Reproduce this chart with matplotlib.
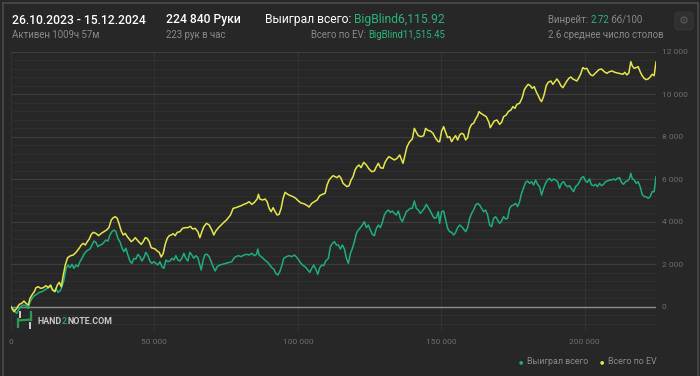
import numpy as np
import matplotlib
matplotlib.use("Agg")
from matplotlib import pyplot as plt
from matplotlib.patches import FancyBboxPatch
from matplotlib.lines import Line2D
from matplotlib.ticker import MultipleLocator, FuncFormatter

plt.rcParams['font.family'] = ['Roboto', 'DejaVu Sans']

# EV winnings (big blinds) vs hands played, in thousands of hands
ev_hands_k = [0, 1.04, 1.97, 2.90, 3.72, 4.53, 5.22, 6.04, 6.62, 7.43, 8.13, 8.71, 9.52, 10.33, 11.26, 12.19,
              13.00, 13.82, 14.51, 15.33, 16.14, 16.83, 17.53, 18.23, 18.92, 19.74, 20.78, 21.71, 22.64, 23.57,
              24.50, 25.19, 25.89, 26.59, 27.28, 27.98, 28.68, 29.61, 30.53, 31.46, 32.39, 33.32, 34.13, 34.95,
              35.64, 36.34, 37.04, 37.73, 38.43, 39.13, 39.82, 40.52, 41.22, 41.91, 42.61, 43.31, 44.00, 44.70,
              45.40, 46.09, 46.79, 47.48, 48.18, 48.88, 49.57, 50.27, 50.97, 51.66, 52.36, 53.06, 53.75, 54.45,
              55.15, 55.84, 56.54, 57.24, 57.93, 58.86, 59.79, 60.72, 61.65, 62.58, 63.27, 64.20, 65.13, 65.83,
              66.53, 67.22, 68.15, 69.08, 70.01, 70.70, 71.40, 72.33, 73.26, 74.19, 75.12, 76.05,
              76.51, 77.44, 78.37, 79.30, 80.23, 81.15, 82.08, 83.01, 83.94, 84.87, 85.80, 86.26, 86.73, 87.66,
              88.58, 89.28, 89.98, 90.67, 91.37, 92.07, 92.76, 93.46, 94.16, 94.85, 95.55, 96.48, 97.41, 98.34,
              99.27, 100.19, 101.12, 102.05, 102.98, 103.91, 104.84, 105.77, 106.70, 107.62, 108.55, 109.48,
              110.18, 110.88, 111.57, 112.27, 112.97, 113.66, 114.36, 115.06, 115.75, 116.45, 117.14, 117.84,
              118.54, 119.23, 119.93, 120.63, 121.32, 122.02, 122.95, 123.88, 124.81, 125.74, 126.67, 127.36,
              128.06, 128.75, 129.68, 130.38, 131.08, 131.77, 132.70, 133.63, 134.56, 135.49, 136.19, 136.65,
              137.35, 138.04, 138.97, 139.90, 140.60, 141.29, 141.99, 142.92, 143.85, 144.54, 145.24, 146.17,
              147.10, 148.03, 148.96,
              149.42, 150.12, 150.81, 151.51, 152.21, 152.90, 153.60, 154.30, 154.99, 155.69, 156.39, 157.08,
              157.78, 158.48, 159.17, 159.87, 160.57, 161.26, 161.96, 162.66, 163.12, 163.82, 164.75, 165.67,
              166.60, 167.07, 167.76, 168.46, 169.39, 170.32, 171.02, 171.71, 172.64, 173.34, 174.27, 174.96,
              175.66, 176.36, 177.28, 178.21, 178.91, 179.61, 180.30, 181.00, 181.70, 182.39, 183.09, 183.79,
              184.48, 184.95, 185.64, 186.11, 186.57, 187.27, 188.20, 188.89, 189.59, 190.29, 190.98, 191.68,
              192.38, 193.07, 193.77, 194.47, 195.16, 195.86, 196.56, 197.25, 197.95, 198.65, 199.34, 200.04,
              200.74, 201.43, 202.13, 202.83, 203.52, 204.22, 204.92, 205.85, 206.77, 207.70, 208.63, 209.56,
              210.49, 211.42, 212.35, 213.28, 213.97, 214.67, 215.37, 216.06, 216.53, 217.22, 217.92, 218.62,
              219.31, 220.01, 220.71, 221.40, 222.10, 222.80, 223.49, 224.19, 224.84]
ev_bb = [0, -235, -78, 110, 157, 267, 157, 78, 392, 581, 706, 894, 941, 863, 894, 988,
         894, 1020, 784, 706, 1020, 1145, 941, 1491, 1961, 2306, 2401, 2432, 2557, 2714,
         2903, 2981, 2903, 3060, 3185, 3405, 3499, 3452, 3342, 3452, 3530, 3609, 3719, 4079,
         4189, 4236, 4158, 3875, 3562, 3373, 3452, 3295, 3185, 3060, 3138, 3248, 3138, 3028,
         2934, 3060, 3248, 3216, 3060, 2777, 2746, 2714, 2620, 2557, 2338, 2510, 2934, 3216,
         3342, 3373, 3436, 3342, 3499, 3530, 3687, 3719, 3719, 3781, 3656, 3687, 3530, 3248,
         3530, 3766, 3923, 3844, 3609, 3373, 3562, 3719, 3844, 3970, 4079, 4236,
         4315, 4629, 4660, 4707, 4754, 4817, 4864, 4942, 4817, 4911, 5068, 5288, 5068, 5021,
         5068, 4942, 4629, 4472, 4660, 4472, 4315, 4346, 4629, 5099, 5382, 5288, 5225, 5178,
         5099, 4974, 4880, 4848, 4785, 4691, 4864, 4942, 5021, 5225, 5288, 5335,
         5727, 5962, 6072, 6166, 6119, 6072, 6166, 6041, 5805, 5727, 5648, 5695,
         5962, 6119, 6433, 6590, 6668, 6543, 6794, 6668, 6480, 6354, 6386, 6590,
         6747, 6543, 6511, 6794, 6951, 7061, 6982, 6904, 6982, 7139, 6904, 6747,
         7139, 7531, 7767, 7892, 8394, 8206, 8049, 8002, 8049, 8394, 8300, 8269,
         8159, 7923, 7767,
         7767, 8269, 8473, 8206, 7955, 8002, 7767, 7923, 8049, 7845, 8080, 8159,
         8112, 7845, 7955, 8394, 8582, 8630, 8833, 8990, 9179, 9100, 9022, 8943,
         8676, 8425, 8582, 8739, 8786, 8582, 8676, 8943, 9022, 9179, 9257, 9414,
         9335, 9524, 9571, 9837, 10199, 10355, 10465, 10402, 10277, 10355, 10120, 9932,
         9728, 9649, 9885, 10120, 10402, 10559, 10622, 10465, 10591, 10716, 10591, 10402,
         10308, 10465, 10622, 10748, 10810, 10716, 10669, 10622, 10779, 10967, 11250, 11187,
         11218, 11030, 10905, 10873, 10967, 11061, 11155, 11187, 11061, 10983, 11061, 11092,
         11030, 10999, 10967, 10936, 11030, 10905, 10999, 11532, 11344, 11218, 11250, 11297,
         11061, 10873, 10748, 10685, 10716, 10810, 10936, 10873, 11515]

# actual winnings (big blinds)
won_hands_k = [0, 0.81, 1.39, 1.97, 2.55, 3.37, 4.30, 5.22, 5.92, 6.62, 7.31, 8.13, 8.94, 9.87, 10.80, 11.73,
               12.65, 13.58, 14.28, 14.98, 15.67, 16.37, 17.07, 17.76, 18.46, 19.16, 19.85, 20.55, 21.25, 21.94,
               22.64, 23.34, 24.03, 24.73, 25.43, 26.12, 26.82, 27.52, 28.21, 28.91, 29.61, 30.30, 31.00, 31.70,
               32.39, 33.09, 33.79, 34.48, 35.18, 35.87, 36.57, 37.27, 37.96, 38.66, 39.36, 40.05, 40.75, 41.45,
               42.14, 42.84, 43.54, 44.23, 44.93, 45.63, 46.32, 47.02, 47.72, 48.41, 49.11, 49.81, 50.50, 51.20,
               51.90, 52.59, 53.29, 53.99, 54.68, 55.38, 56.08, 56.77, 57.47, 58.17, 58.86, 59.56, 60.26, 60.95,
               61.65, 62.35, 63.04, 63.74, 64.44, 65.13, 65.83, 66.29, 66.99, 67.69, 68.38, 69.08, 69.78, 70.47,
               71.17, 71.87, 72.79,
               76.97, 77.67, 78.37, 79.30, 80.23, 81.15, 82.08, 83.01, 83.94, 84.87, 85.57, 86.03, 86.49, 87.19,
               87.89, 88.82, 89.51, 90.21, 90.91, 91.60, 92.30, 93.00, 93.69, 94.39, 95.09, 96.01, 96.94, 97.87,
               98.80, 99.73, 100.66, 101.59, 102.52, 103.45, 104.14, 104.84, 105.53, 106.23, 106.93, 107.62,
               108.32, 109.02, 109.71, 110.64, 111.34, 112.04, 112.73, 113.43, 114.13, 114.82, 115.52, 116.22,
               116.91, 117.61, 118.31, 119.00, 119.70, 120.40, 121.09, 121.79, 122.49, 123.18, 123.88, 124.58,
               125.27, 125.97, 126.67, 127.36, 128.06, 128.75, 129.45, 130.15, 130.84, 131.54, 132.24, 132.93,
               133.63, 134.33, 135.02, 135.72, 136.42, 137.11, 137.81, 138.51, 139.20, 139.90, 140.60, 141.29,
               141.99, 142.69, 143.38, 144.08, 144.78, 145.47, 146.17, 146.87, 147.56, 148.26, 148.96,
               149.42, 150.12, 150.81, 151.51, 152.21, 152.90, 153.60, 154.30, 154.99, 155.69, 156.39, 157.08,
               157.78, 158.48, 159.17, 159.87, 160.57, 161.26, 161.96, 162.66, 163.35, 164.05, 164.75, 165.44,
               166.14, 166.84, 167.53, 168.23, 168.93, 169.62, 170.32, 171.02, 171.71, 172.41, 173.11, 173.80,
               174.50, 175.20, 175.89, 176.59, 177.28, 177.98, 178.68, 179.37, 180.07, 180.77, 181.46, 182.16,
               182.86, 183.55, 184.25, 184.95, 185.64, 186.34, 187.04, 187.73, 188.43, 189.13, 189.82, 190.52,
               191.22, 191.91, 192.61, 193.31, 194.00, 194.70, 195.40, 196.09, 196.79, 197.48, 198.18, 198.88,
               199.57, 200.27, 200.97, 201.66, 202.36, 203.06, 203.75, 204.45, 205.15, 205.84, 206.54, 207.24,
               207.93, 208.63, 209.33, 210.02, 210.72, 211.42, 212.11, 212.81, 213.51, 214.20, 214.90, 215.60,
               216.06, 216.53, 217.22, 217.92, 218.62, 219.31, 220.01, 220.71, 221.40, 222.10, 222.80, 223.49,
               224.19, 224.84]
won_bb = [0, -78, -235, -314, -157, 0, 78, 47, -78, 204, 392, 518, 581, 675, 706, 784,
          863, 988, 832, 737, 863, 675, 737, 941, 1255, 1773, 1961, 1836, 1993, 1804,
          1961, 1883, 2118, 2275, 2463, 2589, 2667, 2714, 2903, 3091, 3028, 2824, 2903, 2934,
          3028, 3138, 3091, 3373, 3530, 3609, 3530, 3216, 3060, 2777, 2589, 2746, 2432, 2150,
          2040, 2275, 2244, 2463, 2354, 2150, 2306, 2557, 2401, 2150, 2040, 2118, 2040, 1961,
          2118, 1883, 1804, 2197, 2118, 2150, 2275, 2197, 2401, 2197, 2150, 2275, 2510, 2275,
          2150, 2557, 2432, 2275, 2401, 2306, 1961, 1726, 2197, 2463, 2463, 2354, 2118, 1883,
          1679, 1883, 1961,
          2118, 2275, 2354, 2401, 2354, 2432, 2463, 2432, 2510, 2401, 2463, 2714, 2432, 2354,
          2275, 2150, 2087, 1961, 1836, 1773, 1569, 1491, 1647, 1930, 2275, 2354, 2401, 2354,
          2432, 2306, 2118, 1961, 1883, 1726, 1616, 1804, 1961, 1773, 1522, 1836,
          1961, 1930, 2150, 2275, 2824, 2981, 3060, 2903, 2903, 2714, 2903, 2714,
          2275, 2040, 2510, 2746, 3060, 3452, 3609, 3719, 3844, 4001, 3719, 3844,
          3609, 3405, 3342, 3687, 3844, 3719, 3970, 4315, 4472, 4550, 4440, 4503,
          4393, 4315, 4503, 4158, 4001, 4236, 4472, 4550, 4629, 4629, 4974, 4629,
          4550, 4393, 4503, 4629, 4817, 4660, 4503, 4315, 4158, 4189, 4472,
          3923, 4472, 4503, 4079, 3687, 3530, 3499, 3373, 3499, 3719, 3844, 3766,
          3656, 3530, 3719, 4158, 4393, 4550, 4785, 4864, 4785, 4629, 4472, 4550,
          4315, 3844, 3766, 4158, 4236, 4079, 3923, 4032, 4236, 4126, 4158, 4629,
          4754, 4785, 4864, 4707, 4942, 5335, 5601, 5852, 5915, 5805, 5884, 5727,
          5962, 5758, 5648, 5256, 5570, 5805, 5962, 6041, 5915, 6009, 5962, 5884,
          5570, 5805, 5884, 5727, 5648, 5695, 5539, 5413, 5648, 5727, 5884, 6072,
          6119, 5915, 5852, 6009, 5727, 5695, 5758, 5648, 5805, 5695, 5758, 5884,
          5915, 5962, 5962, 6009, 5962, 6041, 6072, 5852, 5758, 5884, 5915, 6041,
          6276, 6041, 5962, 5805, 5884, 5648, 5288, 5178, 5178, 5099, 5178, 5413,
          5413, 6116]

x_ticks = [0, 50000, 100000, 150000, 200000]
y_ticks = [0, 2000, 4000, 6000, 8000, 10000, 12000]

BG = "#272727"
GREEN = "#1fae7b"
YELLOW = "#e6e64c"
TXT_GREEN = "#2bb47c"
GRAY = "#8a8a8a"
TICK = "#6e6e6e"

W, H = 700, 376
fig = plt.figure(figsize=(7.0, 3.76), dpi=100, facecolor=BG)


def fx(px):
    return px / W


def fy(py):
    return 1 - py / H


# card border
fig.add_artist(Line2D([fx(2.5), fx(2.5)], [fy(2.5), 0], color="#4a4a4a", lw=1.2))
fig.add_artist(Line2D([fx(2.5), fx(697.5)], [fy(2.5), fy(2.5)], color="#4a4a4a", lw=1.2))
fig.add_artist(Line2D([fx(697.5), fx(697.5)], [fy(2.5), 0], color="#4a4a4a", lw=1.2))

ax = fig.add_axes([fx(11), fy(332.2), fx(656) - fx(11), fy(51.7) - fy(332.2)])
ax.set_facecolor(BG)
ax.plot(np.array(won_hands_k) * 1000, won_bb, color=GREEN, lw=1.1, zorder=4)
ax.plot(np.array(ev_hands_k) * 1000, ev_bb, color=YELLOW, lw=1.1, zorder=5)

ax.set_xlim(0, 224840)
ax.set_ylim(-1200, 12000)
ax.set_xticks(x_ticks)
ax.set_yticks(y_ticks)
ax.yaxis.set_minor_locator(MultipleLocator(400))
ax.grid(True, which="major", axis="y", color="#3d3d3d", lw=0.9)
ax.grid(True, which="minor", axis="y", color="#303030", lw=0.7)
ax.grid(True, which="major", axis="x", color="#333333", lw=0.7)
ax.axhline(0, color="#8c8c8c", lw=1.0, zorder=3)
for s in ax.spines.values():
    s.set_visible(False)
ax.yaxis.tick_right()
fmt = FuncFormatter(lambda v, p: "{:,}".format(int(v)).replace(",", " "))
ax.xaxis.set_major_formatter(fmt)
ax.yaxis.set_major_formatter(fmt)
ax.tick_params(axis="both", which="both", length=0, colors=TICK, labelsize=6)
ax.tick_params(axis="x", pad=5)
ax.tick_params(axis="y", pad=4)

fig.canvas.draw()
renderer = fig.canvas.get_renderer()


def run_text(px, py, parts, size, weight="normal"):
    # draw consecutive coloured pieces of text on one line
    x = fx(px)
    for s, c in parts:
        t = fig.text(x, fy(py), s, color=c, fontsize=size, weight=weight, va="center", ha="left")
        bb = t.get_window_extent(renderer)
        x = fig.transFigure.inverted().transform((bb.x1, bb.y0))[0]


def right_text(px, py, parts, size, weight="normal"):
    x = fx(px)
    for s, c in reversed(parts):
        t = fig.text(x, fy(py), s, color=c, fontsize=size, weight=weight, va="center", ha="right")
        bb = t.get_window_extent(renderer)
        x = fig.transFigure.inverted().transform((bb.x0, bb.y0))[0]


BIG = 8.7
SMALL = 6.9

# header
fig.text(fx(12), fy(20), "26.10.2023 - 15.12.2024", color="white", fontsize=BIG, weight="medium", va="center")
fig.text(fx(12), fy(35), "Активен 1009ч 57м", color=GRAY, fontsize=SMALL, va="center")
fig.text(fx(166), fy(20), "224 840 Руки", color="white", fontsize=BIG, weight="medium", va="center")
fig.text(fx(166), fy(35), "223 рук в час", color=GRAY, fontsize=SMALL, va="center")
right_text(445, 20, [("Выиграл всего: ", "white"), ("BigBlind6,115.92", TXT_GREEN)], BIG)
right_text(445, 35, [("Всего по EV: ", GRAY), ("BigBlind11,515.45", TXT_GREEN)], SMALL)
run_text(548, 20, [("Винрейт: ", GRAY), ("2.72", TXT_GREEN), (" бб/100", GRAY)], SMALL)
fig.text(fx(548), fy(35), "2.6 среднее число столов", color=GRAY, fontsize=SMALL, va="center")

# settings button
fig.add_artist(FancyBboxPatch((fx(675), fy(30)), fx(18), fy(12) - fy(30),
                              boxstyle="round,pad=0,rounding_size=0.006",
                              fc="#303030", ec="#3a3a3a", lw=0.6, transform=fig.transFigure))
fig.text(fx(684), fy(21), "\u2699", color="#5a5a5a", fontsize=8, ha="center", va="center",
         family=["DejaVu Sans"])

# logo
lg = "#2a9a55"
fig.add_artist(Line2D([fx(18), fx(18)], [fy(319), fy(327)], color=lg, lw=1.6))
fig.add_artist(Line2D([fx(18), fx(31)], [fy(320.5), fy(319.5)], color=lg, lw=1.6))
fig.add_artist(Line2D([fx(31), fx(31)], [fy(312), fy(320)], color=lg, lw=1.6))
fig.add_artist(Line2D([fx(19.5), fx(19.5)], [fy(312), fy(317)], color="#d0d0d0", lw=1.4))
fig.add_artist(Line2D([fx(30), fx(30)], [fy(323), fy(328)], color="#d0d0d0", lw=1.4))
run_text(38, 322, [("HAND", "#c8c8c8"), ("2", lg), ("NOTE.COM", "#c8c8c8")], 6.4, weight="bold")

# legend
fig.text(fx(521), fy(362), "\u25cf", color=GREEN, fontsize=3.5, ha="center", va="center", family=["DejaVu Sans"])
fig.text(fx(527), fy(362), "Выиграл всего", color=GRAY, fontsize=6.4, va="center")
fig.text(fx(602), fy(362), "\u25cf", color=YELLOW, fontsize=3.5, ha="center", va="center", family=["DejaVu Sans"])
fig.text(fx(608), fy(362), "Всего по EV", color=GRAY, fontsize=6.4, va="center")

fig.savefig("out.png", dpi=100, facecolor=BG)
